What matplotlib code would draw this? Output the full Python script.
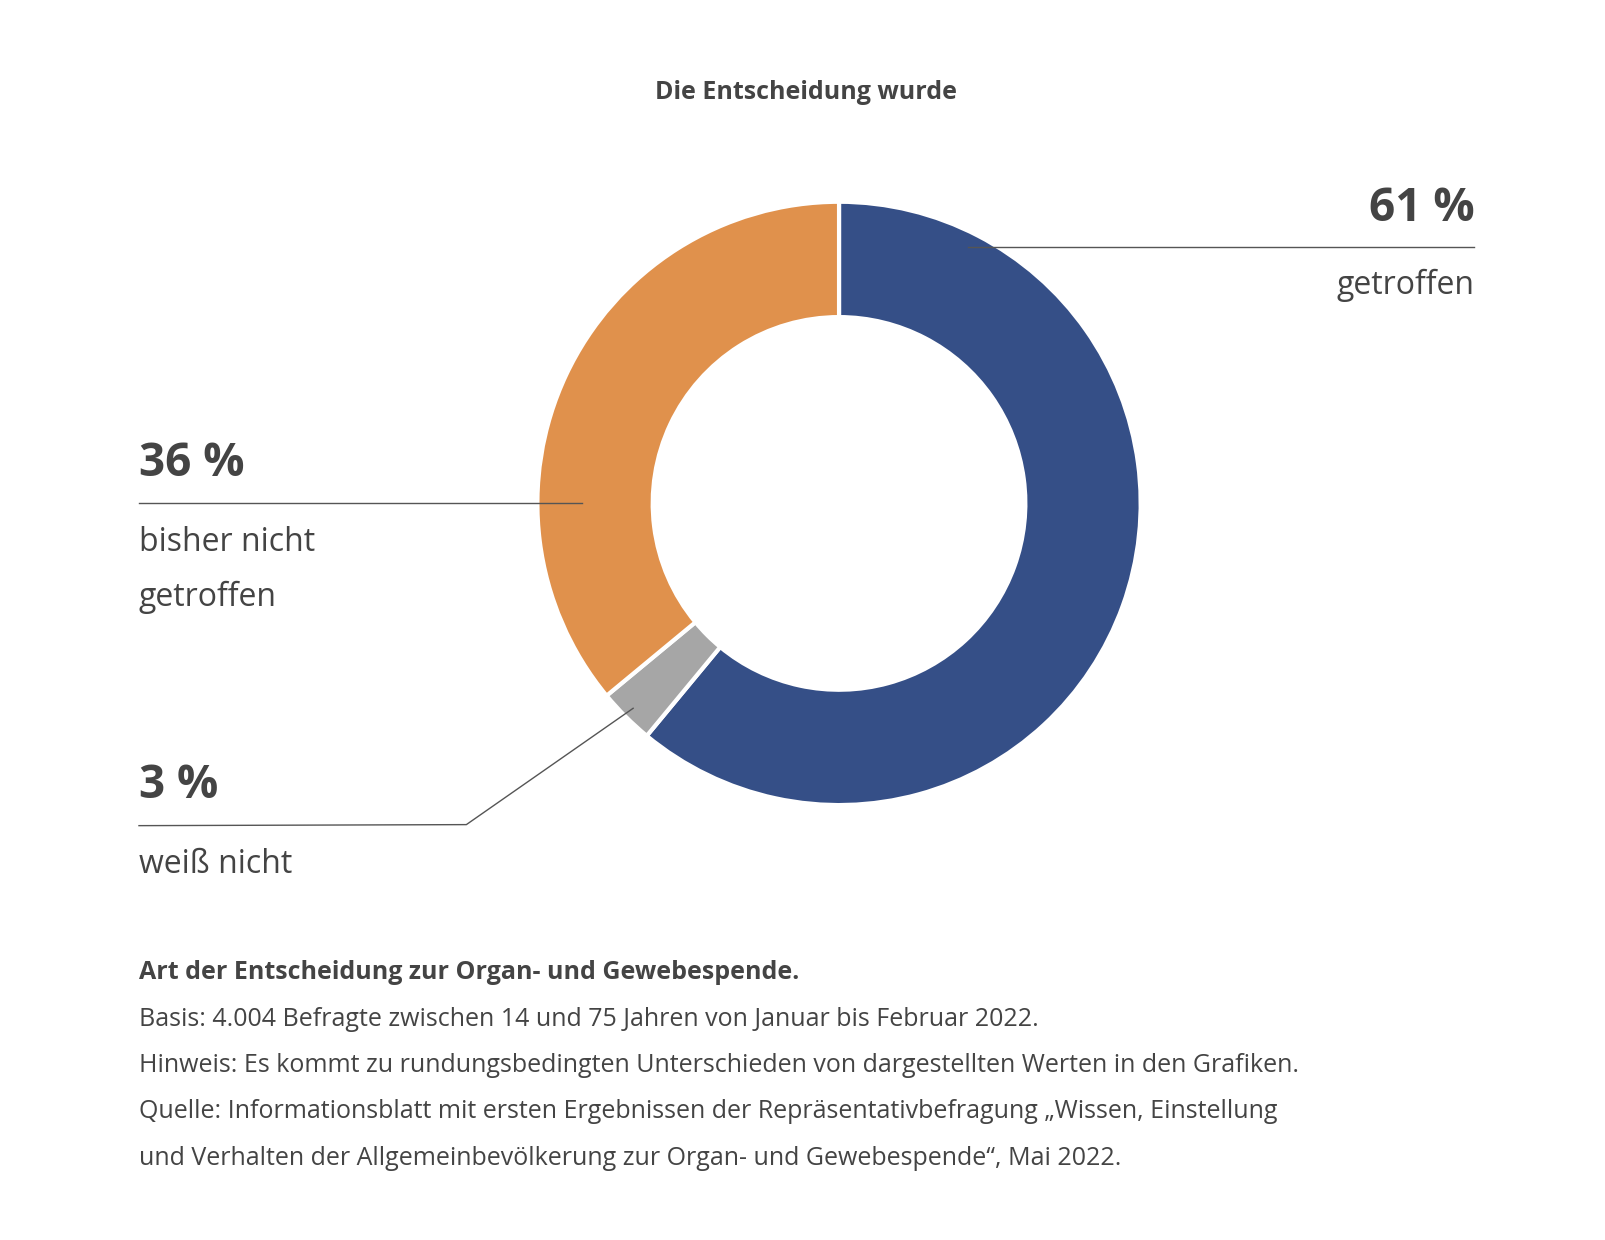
import matplotlib.pyplot as plt

values = [61, 3, 36]
colors = ['#354f87', '#a6a6a6', '#e0914c']
title = 'Die Entscheidung wurde'
footnotes = [
    'Art der Entscheidung zur Organ- und Gewebespende.',
    'Basis: 4.004 Befragte zwischen 14 und 75 Jahren von Januar bis Februar 2022.',
    'Hinweis: Es kommt zu rundungsbedingten Unterschieden von dargestellten Werten in den Grafiken.',
    'Quelle: Informationsblatt mit ersten Ergebnissen der Repräsentativbefragung „Wissen, Einstellung',
    'und Verhalten der Allgemeinbevölkerung zur Organ- und Gewebespende“, Mai 2022.',
]

W, H = 1606, 1240
S = 1606 / 1560  # reference measured at 1560 px width
plt.rcParams['font.family'] = ['Open Sans', 'DejaVu Sans']
txt = '#444444'

fig = plt.figure(figsize=(W / 100, H / 100), dpi=100)
ax = fig.add_axes([0, 0, 1, 1])
ax.axis('off')

def X(px):
    return px * S

def Y(py):
    return H - py * S

ax.pie(values, colors=colors, startangle=90, counterclock=False,
       center=(X(815), Y(489)), radius=293 * S,
       wedgeprops=dict(width=112 * S, edgecolor='white', linewidth=3))
ax.set_xlim(0, W)
ax.set_ylim(0, H)
ax.set_aspect('equal')

ax.text(X(783), Y(90), title, ha='center', va='center', fontsize=18, fontweight='bold', color=txt)

# 61 %
ax.plot([X(940), X(1432)], [Y(240), Y(240)], color='#555555', lw=1)
ax.text(X(1432), Y(203), '61 %', ha='right', va='center', fontsize=33, fontweight='bold', color=txt)
ax.text(X(1432), Y(277), 'getroffen', ha='right', va='center', fontsize=23, color=txt)

# 36 %
ax.plot([X(135), X(565)], [Y(489), Y(489)], color='#555555', lw=1)
ax.text(X(135), Y(450), '36 %', ha='left', va='center', fontsize=33, fontweight='bold', color=txt)
ax.text(X(135), Y(527), 'bisher nicht', ha='left', va='center', fontsize=23, color=txt)
ax.text(X(135), Y(580), 'getroffen', ha='left', va='center', fontsize=23, color=txt)

# 3 %
ax.plot([X(135), X(453), X(615)], [Y(802), Y(801), Y(688)], color='#555555', lw=1)
ax.text(X(135), Y(763), '3 %', ha='left', va='center', fontsize=33, fontweight='bold', color=txt)
ax.text(X(135), Y(840), 'weiß nicht', ha='left', va='center', fontsize=23, color=txt)

for i, line in enumerate(footnotes):
    ax.text(X(135), Y(945 + 45 * i), line, ha='left', va='center', fontsize=18,
            fontweight='bold' if i == 0 else 'normal', color=txt)

fig.savefig('out.png', dpi=100, facecolor='white')
